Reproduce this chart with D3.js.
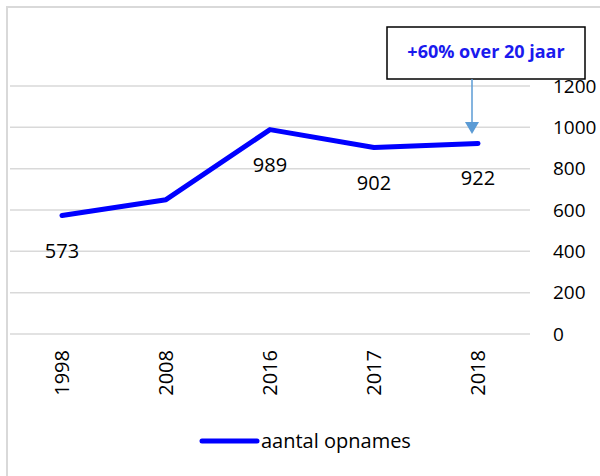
<!DOCTYPE html>
<html><head><meta charset="utf-8">
<script src="https://cdn.jsdelivr.net/npm/d3@7"></script>
<style>body{margin:0;background:#fff}svg{display:block}</style>
</head><body>
<script>
const categories = ["1998","2008","2016","2017","2018"];
const values = [573, 650, 989, 902, 922];
const labelShown = [true, false, true, true, true];
const yTicks = [0,200,400,600,800,1000,1200];
const seriesName = "aantal opnames";
const annotation = "+60% over 20 jaar";

const W = 600, H = 476;
const svg = d3.select("body").append("svg").attr("width", W).attr("height", H);
const font = "'Open Sans', sans-serif";

svg.append("rect").attr("x",7).attr("y",7).attr("width",700).attr("height",600)
  .attr("fill","none").attr("stroke","#d9d9d9").attr("stroke-width",2);

const x = d3.scaleBand().domain(categories).range([10,530]);
const y = d3.scaleLinear().domain([0,1200]).range([334,86]);

// gridlines
svg.append("g").selectAll("line").data(yTicks).join("line")
  .attr("x1",10).attr("x2",530).attr("y1",d=>y(d)).attr("y2",d=>y(d))
  .attr("stroke","#d9d9d9").attr("stroke-width",1.5);

// right axis labels
const yAxis = d3.axisRight(y).tickValues(yTicks).tickFormat(d3.format("d")).tickSize(0).tickPadding(0);
const gy = svg.append("g").attr("transform","translate(553,0)").call(yAxis);
gy.select(".domain").remove();
gy.selectAll("text").attr("font-family",font).attr("font-size",19).attr("fill","#000");

// x axis labels rotated
const xAxis = d3.axisBottom(x).tickSize(0).tickPadding(0);
const gx = svg.append("g").attr("transform","translate(0,350)").call(xAxis);
gx.select(".domain").remove();
gx.selectAll("text").attr("font-family",font).attr("font-size",20).attr("fill","#000")
  .attr("transform","rotate(-90)").attr("text-anchor","end").attr("x",0).attr("y",0).attr("dy","0.35em");

// line
const line = d3.line().x((d,i)=>x(categories[i])+x.bandwidth()/2).y(d=>y(d));
svg.append("path").datum(values).attr("d",line).attr("fill","none")
  .attr("stroke","#0000ff").attr("stroke-width",5).attr("stroke-linecap","round").attr("stroke-linejoin","round");

// data labels
svg.append("g").selectAll("text").data(values.map((v,i)=>({v,i})).filter(d=>labelShown[d.i])).join("text")
  .attr("x",d=>x(categories[d.i])+x.bandwidth()/2).attr("y",d=>y(d.v)+35).attr("dy","0.35em")
  .attr("text-anchor","middle").attr("font-family",font).attr("font-size",20).attr("fill","#000")
  .text(d=>d.v);

// annotation
svg.append("rect").attr("x",387).attr("y",27).attr("width",198).attr("height",52)
  .attr("fill","#fff").attr("stroke","#000").attr("stroke-width",1.5);
svg.append("text").attr("x",486).attr("y",52).attr("dy","0.35em").attr("text-anchor","middle")
  .attr("font-family",font).attr("font-weight","bold").attr("font-size",18).attr("fill","#1a1aee").text(annotation);
const ax = x("2018")+x.bandwidth()/2 - 6;
svg.append("line").attr("x1",ax).attr("x2",ax).attr("y1",79).attr("y2",124)
  .attr("stroke","#5b9bd5").attr("stroke-width",1.5);
svg.append("path").attr("d",`M${ax-7},122 L${ax+7},122 L${ax},134 Z`).attr("fill","#5b9bd5");

// legend
svg.append("line").attr("x1",202).attr("x2",257).attr("y1",441).attr("y2",441)
  .attr("stroke","#0000ff").attr("stroke-width",5).attr("stroke-linecap","round");
svg.append("text").attr("x",261).attr("y",441).attr("dy","0.35em")
  .attr("font-family",font).attr("font-size",20).attr("fill","#000").text(seriesName);
</script>
</body></html>
